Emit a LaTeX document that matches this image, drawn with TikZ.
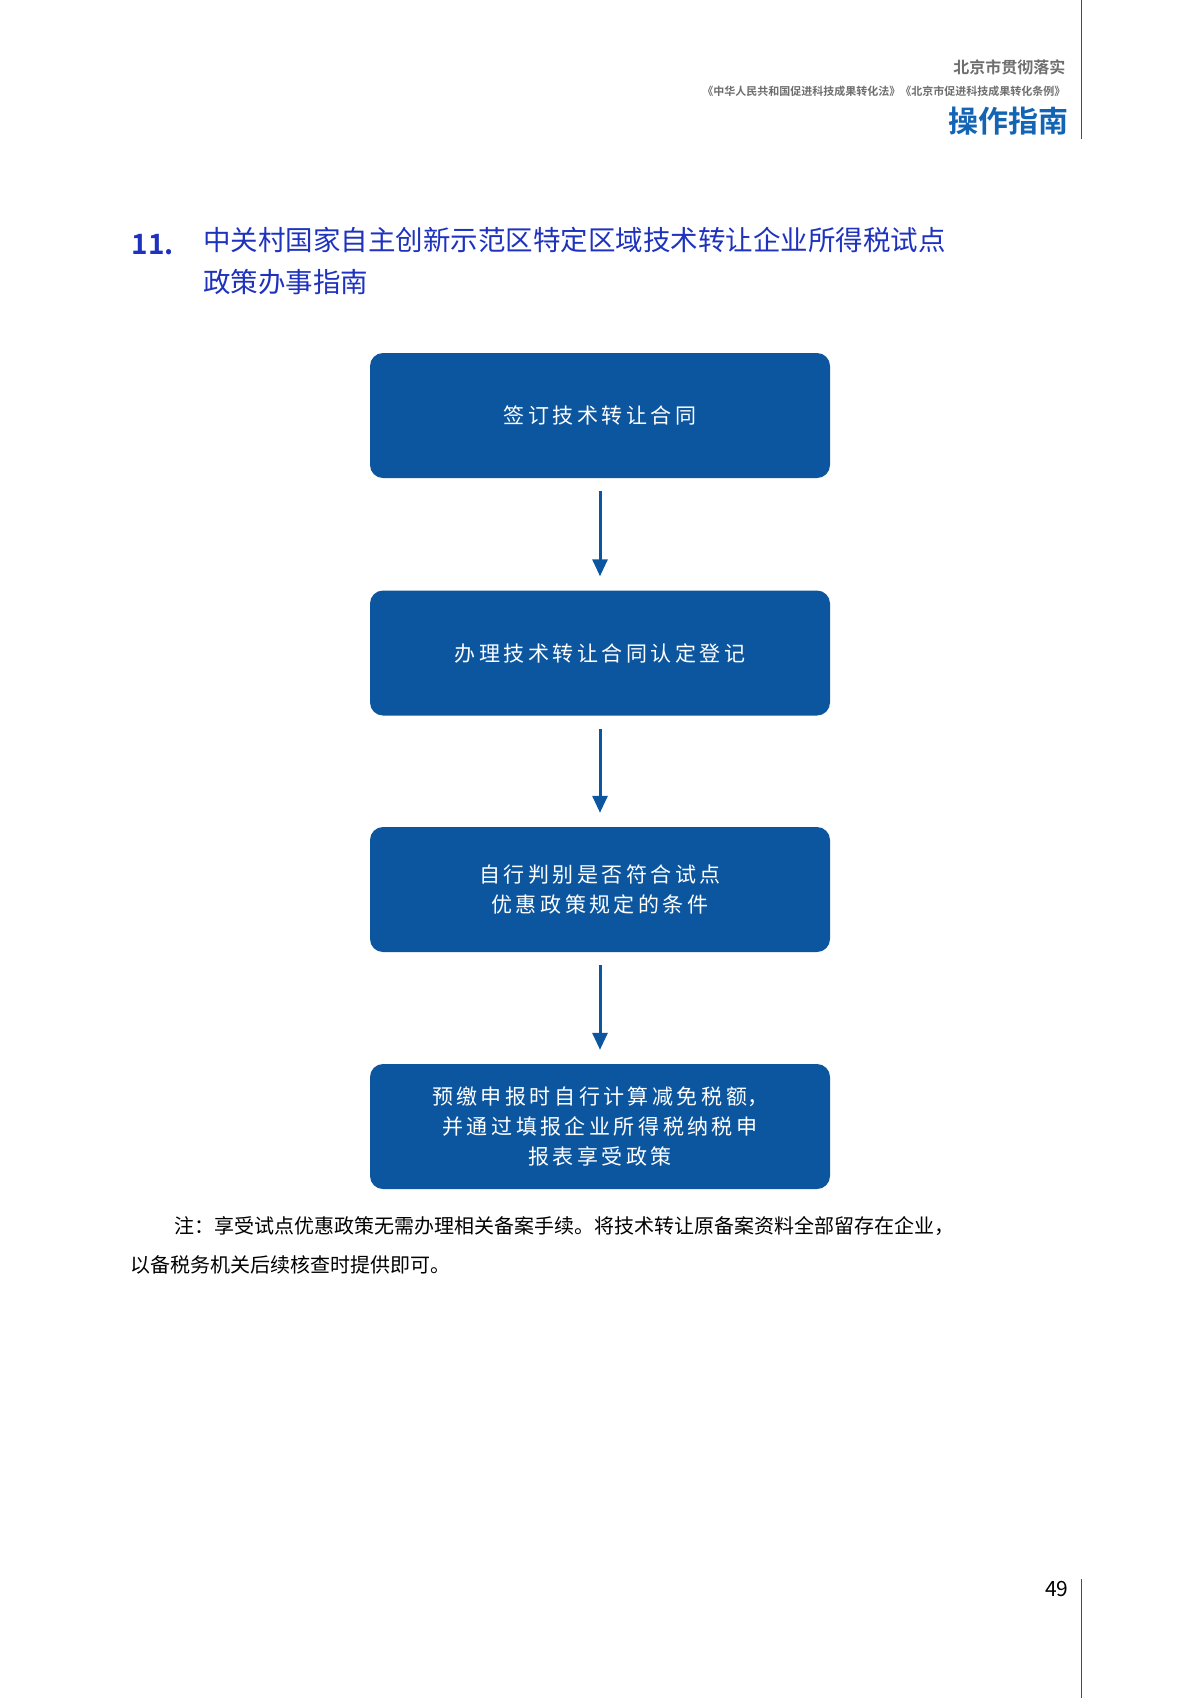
\documentclass[tikz,border=0pt]{standalone}
\usepackage{fontspec}
\setmainfont{Noto Sans CJK SC}
\newfontfamily\cjk{Noto Sans CJK SC}
\newfontfamily\cjkb{Noto Sans CJK SC Bold}
\usetikzlibrary{arrows.meta}
\definecolor{boxblue}{RGB}{12,86,160}
\definecolor{titleblue}{RGB}{30,50,190}
\definecolor{headblue}{RGB}{20,100,180}
\definecolor{headgray}{RGB}{110,110,110}
\begin{document}
\begin{tikzpicture}[x=1pt,y=-1pt,
  stepbox/.style={fill=boxblue,rounded corners=13pt,minimum width=460pt,minimum height=125pt,text=white,font=\cjk\fontsize{21}{30}\selectfont,align=center,inner sep=0pt},
  flow/.style={draw=boxblue,line width=3pt,-{Triangle[length=17pt,width=15pt]}}]
\useasboundingbox (0,0) rectangle (1200,1698);
\draw[line width=1pt,black!70] (1081,0) -- (1081,139);
\draw[line width=1pt,black!70] (1081,1579) -- (1081,1698);
\node[anchor=east,text=headgray,font=\cjkb\fontsize{16}{16}\selectfont] (h1) at (1069,67) {北京市贯彻落实};
\node[anchor=east,text=headgray,font=\cjkb\fontsize{11}{11}\selectfont] (h2) at (1069,91) {《中华人民共和国促进科技成果转化法》《北京市促进科技成果转化条例》};
\node[anchor=east,text=headblue,font=\cjkb\fontsize{30}{30}\selectfont] (h3) at (1072,121) {操作指南};
\node[anchor=west,text=titleblue,font=\cjkb\fontsize{28}{28}\selectfont] (num) at (128,245) {11.};
\node[anchor=north west,text=titleblue,font=\cjk\fontsize{27.5}{42}\selectfont,align=left,inner sep=0pt] (title) at (203,227) {中关村国家自主创新示范区特定区域技术转让企业所得税试点\\政策办事指南};
\node[stepbox] (b1) at (600,415.5) {签\,订\,技\,术\,转\,让\,合\,同};
\node[stepbox] (b2) at (600,653) {办\,理\,技\,术\,转\,让\,合\,同\,认\,定\,登\,记};
\node[stepbox] (b3) at (600,889.5) {自\,行\,判\,别\,是\,否\,符\,合\,试\,点\\优\,惠\,政\,策\,规\,定\,的\,条\,件};
\node[stepbox] (b4) at (600,1126.5) {预\,缴\,申\,报\,时\,自\,行\,计\,算\,减\,免\,税\,额，\\并\,通\,过\,填\,报\,企\,业\,所\,得\,税\,纳\,税\,申\\报\,表\,享\,受\,政\,策};
\draw[flow] ([yshift=-13pt]b1.south) -- ([yshift=14pt]b2.north);
\draw[flow] ([yshift=-13pt]b2.south) -- ([yshift=14pt]b3.north);
\draw[flow] ([yshift=-13pt]b3.south) -- ([yshift=14pt]b4.north);
\node[anchor=north west,inner sep=0pt,font=\cjk\fontsize{20}{39}\selectfont,align=left] (note) at (130,1216) {\hspace*{2.2em}注：享受试点优惠政策无需办理相关备案手续。将技术转让原备案资料全部留存在企业，\\以备税务机关后续核查时提供即可。};
\node[anchor=east,font=\fontsize{21}{21}\selectfont] (pg) at (1072,1589) {49};
\end{tikzpicture}
\end{document}
